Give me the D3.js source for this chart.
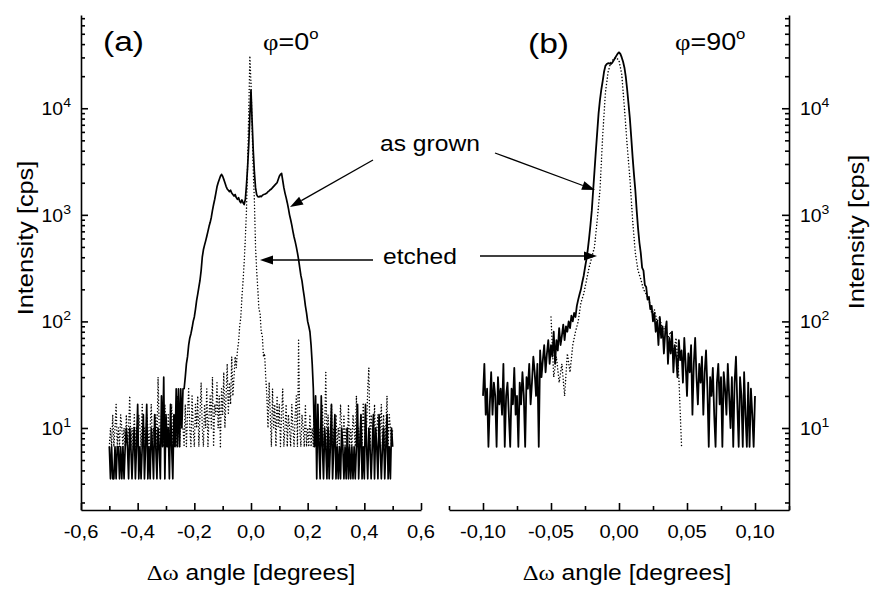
<!DOCTYPE html>
<html>
<head>
<meta charset="utf-8">
<script src="https://cdn.jsdelivr.net/npm/d3@7"></script>
<style>
body { margin: 0; background: #fff; }
text { font-family: "Liberation Sans", Arial, sans-serif; fill: #000; }
</style>
</head>
<body>
<svg width="870" height="590"></svg>
<script>
// counting time per step (s), detector counts -> cps
var COUNT_TIME = 0.3;

// panel (a), phi = 0 deg : scan from -0.5 deg, step 0.004 deg (counts per step)
var startA = -0.5, stepA = 0.004;
var grownA = [
  2,1,2,1,1,2,1,2,2,1,2,1,2,1,
  2,3,2,1,3,2,1,2,3,
  1,2,5,1,2,1,2,4,1,2,
  5,1,2,1,3,2,1,4,2,1,3,2,
  1,6,2,9,1,4,2,3,1,5,2,
  1,4,2,7,2,7,2,7,3,
  7,7,9,12,14,18,21,23,26,30,33,39,47,54,63,73,90,120,141,156,171,189,210,234,255,285,330,375,420,480,550,600,645,690,720,
  690,645,600,555,525,510,495,510,480,465,450,465,435,420,435,405,390,414,390,375,420,570,840,1350,2550,4440,
  2250,1200,750,540,465,444,441,450,444,456,465,468,474,480,495,504,516,525,540,555,570,585,600,645,690,720,735,
  630,540,480,435,390,345,300,270,240,210,186,168,150,132,114,96,81,72,60,51,42,36,30,27,24,18,12,7,
  2,6,1,5,2,1,6,2,1,3,
  2,1,3,1,2,5,1,2,4,1,
  2,1,2,1,3,2,1,2,1,3,
  1,2,1,2,1,2,1,2,5,1,
  2,4,1,2,1,5,2,1,3,2,
  1,2,4,1,3,2,1,4,2,1,
  2,3,1,2,4,1,2,1,3,2
];
var etchedA = [
  2,3,2,4,2,3,5,2,3,2,4,3,2,
  3,2,4,2,3,6,2,3,2,4,2,3,2,
  4,3,2,5,2,3,2,4,3,2,3,5,2,
  3,2,4,2,9,3,2,4,3,2,5,3,2,
  4,2,3,5,2,4,3,2,6,3,2,4,3,
  3,2,5,2,4,7,3,2,6,3,2,5,
  3,6,2,4,8,3,2,5,3,7,2,4,
  6,3,9,2,5,4,8,3,6,2,7,4,
  10,3,6,12,4,8,5,14,6,
  9,14,11,16,19,27,33,51,72,108,180,330,900,2700,9300,5100,1950,780,405,150,90,60,39,36,24,22,14,15,9,
  6,3,8,4,2,7,3,5,2,6,
  3,5,2,4,7,2,3,5,2,4,
  3,2,5,3,2,4,6,2,20,3,
  2,4,3,2,5,2,3,2,4,2,
  3,2,5,2,3,4,2,3,2,5,
  2,3,10,2,4,2,3,5,2,3,
  2,4,2,3,2,5,3,2,4,2,
  3,2,5,2,3,2,4,3,2,6,
  2,3,2,4,2,5,3,2,3,7,
  11,2,4,3,2,5,2,3,4,2,
  3,5,2,4,2,3,6,2,4,3,2,3
];

// panel (b), phi = 90 deg
var startGrownB = -0.1, stepGrownB = 0.001;
var grownB = [
  6,12,4,7,2,5,10,4,8,6,
  2,9,5,7,4,12,2,6,8,4,
  2,7,5,11,4,6,2,8,5,10,
  6,2,9,7,12,5,8,14,10,6,
  12,2,16,9,13,18,10,15,20,12,
  18,14,24,12,20,16,26,18,22,28,
  20,27,24,30,26,34,30,36,33,42,48,
  54,60,70,80,96,114,140,180,240,330,
  510,780,1200,1800,2700,3600,4500,5400,6600,7500,
  7800,7950,7900,7800,8000,8400,8850,9300,9750,10050,
  9700,9000,8200,7200,5900,4500,3300,2400,1600,1050,
  720,510,330,225,165,132,96,90,66,63,
  48,51,39,42,30,
  36,24,30,18,33,21,27,15,24,30,
  12,21,15,24,10,18,14,9,20,13,
  16,8,21,12,6,15,10,18,4,12,
  21,9,5,12,8,14,4,10,16,7,
  2,9,6,11,4,2,8,12,5,9,
  2,10,7,4,12,6,3,9,2,8,
  14,5,2,9,6,2,10,4,2,8,
  2,7,4,2,6
];
var startEtchedB = -0.05, stepEtchedB = 0.002;
var etchedB = [
  33,9,14,8,12,6,15,10,18,24,30,45,54,72,96,120,
  150,270,510,1650,4200,6600,8100,8700,9000,8400,6300,3000,1350,660,270,
  132,90,75,60,54,48,36,39,30,33,24,27,21,24,15,21,9,2
];

var xTicksA = [-0.6, -0.4, -0.2, 0, 0.2, 0.4, 0.6];
var xMinorA = [-0.5, -0.3, -0.1, 0.1, 0.3, 0.5];
var xTicksB = [-0.10, -0.05, 0, 0.05, 0.10];
var xMinorB = [-0.125, -0.075, -0.025, 0.025, 0.075, 0.125];
var yTicks = [10, 100, 1000, 10000];

var svg = d3.select('svg');
svg.append('rect').attr('width', 870).attr('height', 590).attr('fill', '#fff');

var yTop = 15, yBottom = 510;
var y = d3.scaleLog().domain([1.7, 75000]).range([yBottom, yTop]);
var xA = d3.scaleLinear().domain([-0.6, 0.6]).range([81, 421]);
var xB = d3.scaleLinear().domain([-0.125, 0.125]).range([449, 789]);

var yMinor = [];
[1, 10, 100, 1000, 10000].forEach(function(p){
    for (var m = 2; m <= 9; m++) {
        if (m * p <= 75000) yMinor.push(m * p);
    }
});

function styleAxis(g) {
    g.selectAll('path, line').attr('stroke', '#000').attr('stroke-width', 1.6);
    g.selectAll('text').remove();
}

function xAxis(x, major, minor) {
    var g = svg.append('g').attr('transform', 'translate(0,' + yBottom + ')');
    g.call(d3.axisBottom(x).tickValues(major).tickSizeInner(-7).tickSizeOuter(0));
    styleAxis(g);
    var m = svg.append('g').attr('transform', 'translate(0,' + yBottom + ')');
    m.call(d3.axisBottom(x).tickValues(minor).tickSizeInner(-4).tickSizeOuter(0));
    m.select('.domain').remove();
    styleAxis(m);
}

function yAxis(xpos, axisFn) {
    var g = svg.append('g').attr('transform', 'translate(' + xpos + ',0)');
    g.call(axisFn(y).tickValues(yTicks).tickSizeInner(-7).tickSizeOuter(0));
    styleAxis(g);
    var m = svg.append('g').attr('transform', 'translate(' + xpos + ',0)');
    m.call(axisFn(y).tickValues(yMinor).tickSizeInner(-4).tickSizeOuter(0));
    m.select('.domain').remove();
    styleAxis(m);
}

xAxis(xA, xTicksA, xMinorA);
xAxis(xB, xTicksB, xMinorB);
yAxis(81, d3.axisLeft);
yAxis(789, d3.axisRight);

function label(x, yy, size, anchor, sx) {
    return svg.append('text')
        .attr('transform', 'translate(' + x + ',' + yy + ') scale(' + (sx || 1.12) + ',1)')
        .attr('text-anchor', anchor)
        .attr('font-size', size);
}

var fmtA = d3.format('.1f'), fmtB = d3.format('.2f');
xTicksA.forEach(function(v){
    label(xA(v), 538, 18, 'middle').text(fmtA(v).replace('.', ',').replace('−', '-'));
});
xTicksB.forEach(function(v){
    label(xB(v), 538, 18, 'middle').text(fmtB(v).replace('.', ',').replace('−', '-'));
});

yTicks.forEach(function(v){
    var e = Math.round(Math.log10(v));
    var t = label(71, y(v) + 7, 18, 'end', 1.08);
    t.append('tspan').text('10');
    t.append('tspan').attr('dy', -8).attr('font-size', 13).text(e);
    var r = label(800, y(v) + 7, 18, 'start', 1.08);
    r.append('tspan').text('10');
    r.append('tspan').attr('dy', -8).attr('font-size', 13).text(e);
});

// axis titles
[[251, 580], [627, 580]].forEach(function(p){
    var t = label(p[0], p[1], 22, 'middle');
    t.append('tspan').attr('font-family', '"Liberation Serif", serif').text('Δω');
    t.append('tspan').text(' angle [degrees]');
});
svg.append('text').attr('transform', 'translate(33,238) rotate(-90) scale(1.15,1)')
    .attr('text-anchor', 'middle').attr('font-size', 22).text('Intensity [cps]');
svg.append('text').attr('transform', 'translate(864,232) rotate(-90) scale(1.15,1)')
    .attr('text-anchor', 'middle').attr('font-size', 22).text('Intensity [cps]');

// panel labels
label(103, 51, 28, 'start', 1.2).text('(a)');
label(528, 53, 28, 'start', 1.2).text('(b)');
[[263, '0'], [675, '90']].forEach(function(p){
    var t = label(p[0], 50, 24, 'start');
    t.append('tspan').attr('font-family', '"Liberation Serif", serif').text('φ');
    t.append('tspan').text('=' + p[1]);
    t.append('tspan').attr('dy', -11).attr('font-size', 15).text('o');
});
label(380, 151, 22, 'start').text('as grown');
label(383, 264, 22, 'start').text('etched');

// data
function series(counts, start, step) {
    return counts.map(function(c, i){
        return {x: start + i * step, y: c / COUNT_TIME};
    });
}

var lineA = d3.line()
    .x(function(d){ return xA(d.x); })
    .y(function(d){ return y(d.y); });
var lineB = d3.line()
    .x(function(d){ return xB(d.x); })
    .y(function(d){ return y(d.y); });

function drawSolid(data, gen, w) {
    svg.append('path').datum(data)
        .attr('d', gen)
        .attr('fill', 'none')
        .attr('stroke', '#000')
        .attr('stroke-width', w)
        .attr('stroke-linejoin', 'round');
}
function drawDotted(data, gen) {
    svg.append('path').datum(data)
        .attr('d', gen)
        .attr('fill', 'none')
        .attr('stroke', '#000')
        .attr('stroke-width', 1.5)
        .attr('stroke-linecap', 'round')
        .attr('stroke-dasharray', '0.01,3.2');
}

drawSolid(series(grownA, startA, stepA), lineA, 1.7);
drawDotted(series(etchedA, startA, stepA), lineA);
drawSolid(series(grownB, startGrownB, stepGrownB), lineB, 1.8);
drawDotted(series(etchedB, startEtchedB, stepEtchedB), lineB);

// arrows
function arrow(x1, y1, x2, y2) {
    var a = Math.atan2(y2 - y1, x2 - x1), L = 13, W = 4.5;
    var bx = x2 - L * Math.cos(a), by = y2 - L * Math.sin(a);
    svg.append('line')
        .attr('x1', x1).attr('y1', y1).attr('x2', bx).attr('y2', by)
        .attr('stroke', '#000').attr('stroke-width', 1.3);
    svg.append('polygon')
        .attr('points', [[x2, y2],
            [bx + W * Math.sin(a), by - W * Math.cos(a)],
            [bx - W * Math.sin(a), by + W * Math.cos(a)]].join(' '))
        .attr('fill', '#000');
}
arrow(373, 160, 290, 207);
arrow(495, 153, 595, 190);
arrow(373, 260, 260, 260);
arrow(480, 256, 597, 256);
</script>
</body>
</html>
